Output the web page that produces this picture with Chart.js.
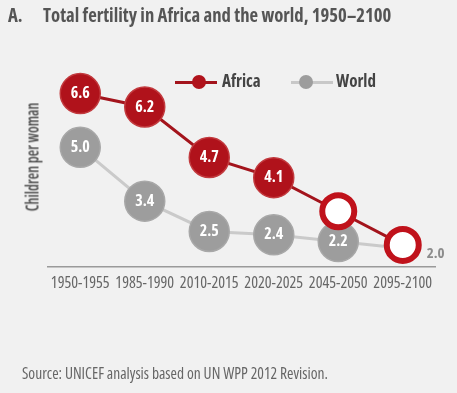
<!DOCTYPE html>
<html><head><meta charset="utf-8">
<script src="https://cdn.jsdelivr.net/npm/chart.js@4"></script>
<style>
html,body{margin:0;padding:0;background:#f1f1f1;}
#wrap{position:relative;width:457px;height:393px;background:#f1f1f1;overflow:hidden;font-family:"Open Sans",sans-serif;font-stretch:condensed;}
#title{position:absolute;left:8px;top:2px;font-size:18.7px;font-weight:bold;color:#555;white-space:nowrap;}
#title .t{position:absolute;left:35px;top:0;}
#source{position:absolute;left:22px;top:362px;font-size:15.5px;color:#666;white-space:nowrap;}
#ytitle{position:absolute;left:32px;top:157px;transform:translate(-50%,-50%) rotate(-90deg) scaleX(0.86);font-size:17px;font-weight:600;color:#4a4a4a;white-space:nowrap;}
#legend{position:absolute;top:72px;left:175px;font-size:17px;font-weight:bold;color:#444;white-space:nowrap;}
.li{position:absolute;top:0;height:20px;}
.sw{position:absolute;top:9px;height:3px;width:42px;}
.dot{position:absolute;top:3px;left:17px;width:14px;height:14px;border-radius:50%;}
.lt{position:absolute;top:-2px;left:47px;line-height:22px;}
canvas{position:absolute;left:0;top:0;}
</style></head>
<body><div id="wrap">
<canvas id="c" width="457" height="393"></canvas>
<div id="title">A.<span class="t">Total fertility in Africa and the world, 1950–2100</span></div>
<div id="ytitle">Children per woman</div>
<div id="legend">
 <div class="li" style="left:0"><div class="sw" style="background:#a3141c"></div><div class="dot" style="background:#b0121b"></div><div class="lt">Africa</div></div>
 <div class="li" style="left:116px"><div class="sw" style="background:#c8c8c8"></div><div class="dot" style="left:8px;background:#9d9d9d"></div><div class="lt" style="left:45px">World</div></div>
</div>
<div id="source">Source: UNICEF analysis based on UN WPP 2012 Revision.</div>
</div>
<script>
const categories = ["1950-1955","1985-1990","2010-2015","2020-2025","2045-2050","2095-2100"];
const africa = [6.6, 6.2, 4.7, 4.1, 3.1, 2.1];
const world = [5.0, 3.4, 2.5, 2.4, 2.2, 2.0];
const africaLabels = ["6.6","6.2","4.7","4.1","",""];
const worldLabels = ["5.0","3.4","2.5","2.4","2.2","2.0"];

const FAMILY = '"Open Sans", sans-serif';

const labelPlugin = {
  id: 'pointLabels',
  afterDatasetsDraw(chart) {
    const ctx = chart.ctx;
    ctx.save();
    ctx.textAlign = 'center';
    ctx.textBaseline = 'middle';
    chart.data.datasets.forEach((ds, di) => {
      const meta = chart.getDatasetMeta(di);
      const labels = ds.label === 'World' ? worldLabels : africaLabels;
      meta.data.forEach((pt, i) => {
        const t = labels[i];
        if (!t) return;
        if (ds.label === 'World' && i === labels.length - 1) {
          ctx.fillStyle = '#8c8c8c';
          ctx.font = 'bold condensed 15px ' + FAMILY;
          ctx.textAlign = 'left';
          ctx.fillText(t, pt.x + 24, pt.y + 5);
          ctx.textAlign = 'center';
          return;
        }
        ctx.fillStyle = '#ffffff';
        ctx.font = 'bold condensed 16px ' + FAMILY;
        ctx.fillText(t, pt.x, pt.y);
      });
    });
    ctx.restore();
  }
};

new Chart(document.getElementById('c'), {
  type: 'line',
  data: {
    labels: categories,
    datasets: [
      {
        label: 'Africa',
        data: africa,
        borderColor: '#a3141c',
        borderWidth: 3,
        pointRadius: [20,20,20,20,16,16],
        pointBackgroundColor: ['#b0121b','#b0121b','#b0121b','#b0121b','#ffffff','#ffffff'],
        pointBorderColor: ['#c23a3e','#c23a3e','#c23a3e','#c23a3e','#c0121b','#c0121b'],
        pointBorderWidth: [1.5,1.5,1.5,1.5,6,6],
        tension: 0
      },
      {
        label: 'World',
        data: world,
        borderColor: '#cacaca',
        borderWidth: 3,
        pointRadius: [20,20,20,20,20,0],
        pointBackgroundColor: '#9d9d9d',
        pointBorderColor: '#a8a8a8',
        pointBorderWidth: 1.5,
        tension: 0
      }
    ]
  },
  options: {
    responsive: false,
    animation: false,
    events: [],
    layout: { padding: { left: 48, right: 20, top: 70, bottom: 93 } },
    plugins: { legend: { display: false }, tooltip: { enabled: false }, title: { display: false } },
    scales: {
      x: {
        offset: true,
        grid: { display: false, drawTicks: false },
        border: { display: true, color: '#9a9a9a', width: 1.5 },
        ticks: { color: '#666666', font: { family: FAMILY, size: 16, weight: 'normal condensed' }, padding: 7, maxRotation: 0, autoSkip: false }
      },
      y: {
        display: false,
        min: 1.45,
        max: 7.3
      }
    }
  },
  plugins: [labelPlugin]
});
</script>
</body></html>
